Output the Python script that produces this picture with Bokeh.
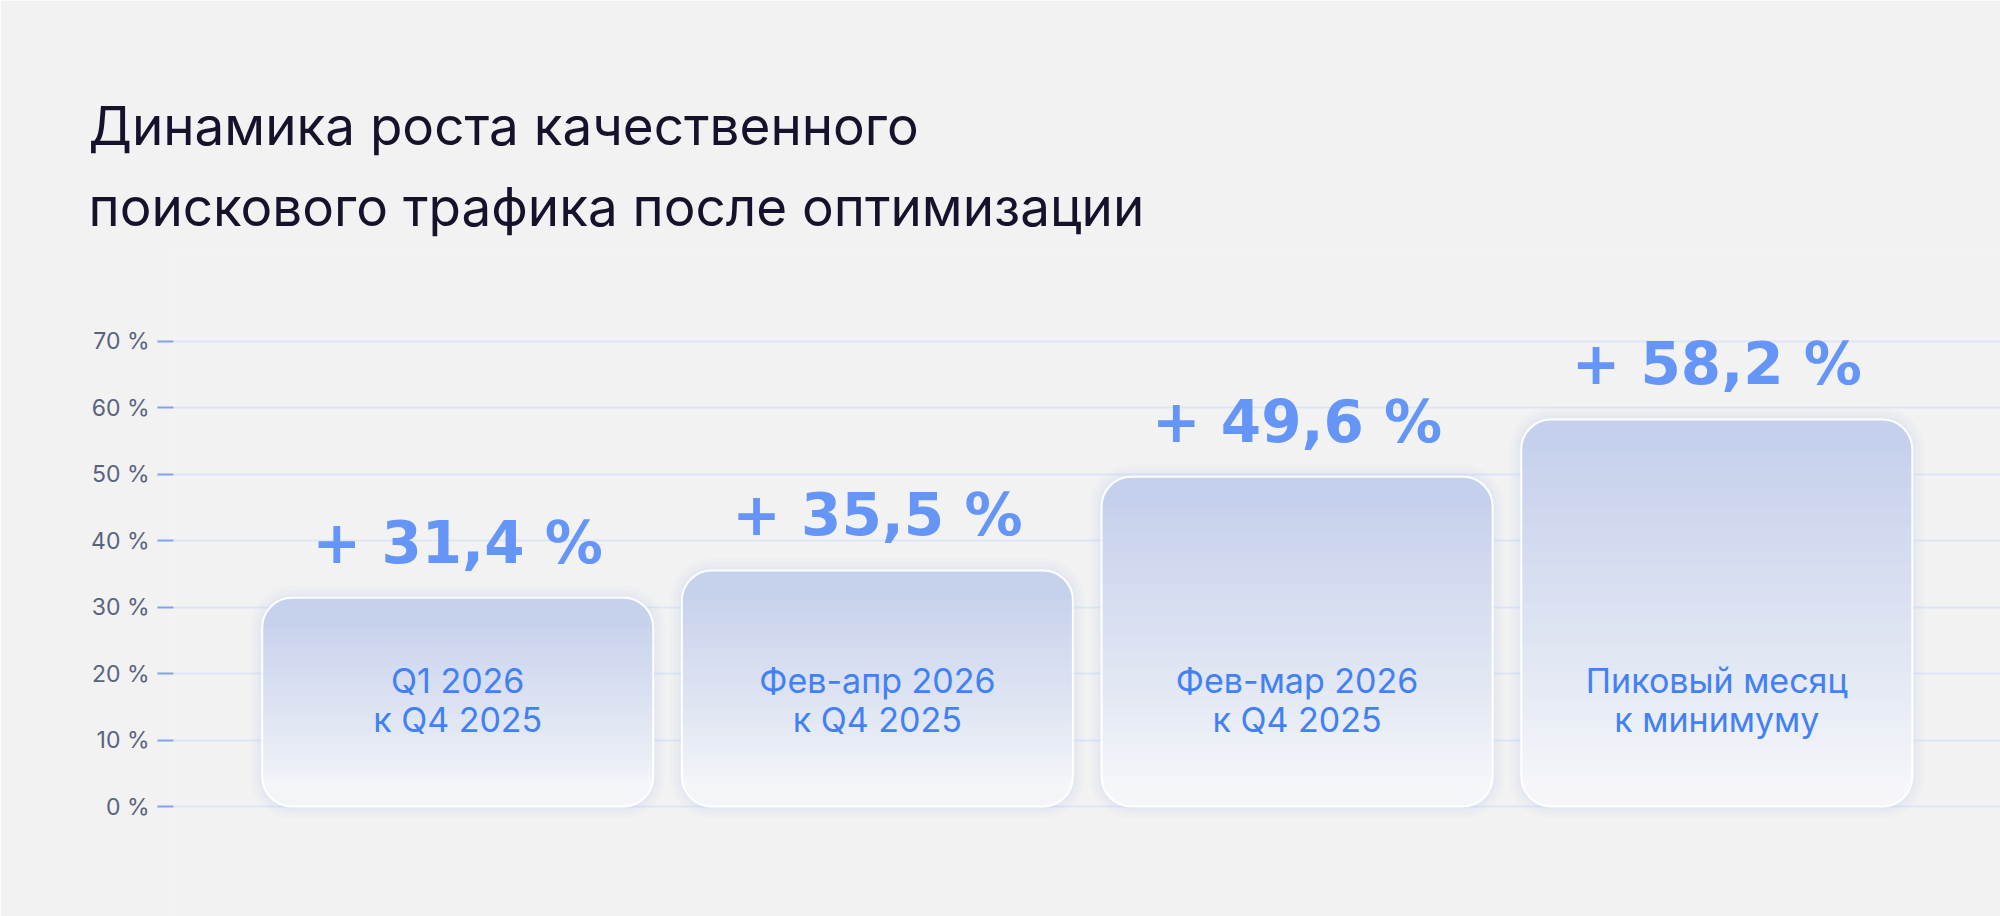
from bokeh.plotting import figure
from bokeh.models import LinearAxis, FixedTicker, Range1d, Title, Grid
from bokeh.core.properties import value
from bokeh.embed import file_html
from bokeh.resources import INLINE

# ---------------- data ----------------
title_lines = ["Динамика роста качественного", "поискового трафика после оптимизации"]
categories_l1 = ["Q1 2026", "Фев-апр 2026", "Фев-мар 2026", "Пиковый месяц"]
categories_l2 = ["к Q4 2025", "к Q4 2025", "к Q4 2025", "к минимуму"]
growth = [31.4, 35.5, 49.6, 58.2]
growth_labels = ["+ 31,4 %", "+ 35,5 %", "+ 49,6 %", "+ 58,2 %"]
tick_values = [0, 10, 20, 30, 40, 50, 60, 70]
tick_labels = ["0 %", "10 %", "20 %", "30 %", "40 %", "50 %", "60 %", "70 %"]

# ---------------- layout / style ----------------
BG = "#f2f2f2"
W, H = 2000, 916
LEFT, TOP = 173, 250
PXX = 419.7                      # px per x unit
PXY = 6.65                       # px per y unit
X0 = -(457.2 - LEFT) / PXX
X1 = X0 + (W - LEFT) / PXX
Y0 = -(H - 806) / PXY
Y1 = Y0 + (H - TOP) / PXY
BW = 391 / PXX                   # bar width in data units
RAD = 30

def y_of(py):  # page px -> data y
    return Y0 + (H - py) / PXY

idx = list(range(len(growth)))

p = figure(width=W, height=H, x_range=Range1d(X0, X1), y_range=Range1d(Y0, Y1),
           x_axis_type=None, y_axis_type=None, output_backend="svg",
           toolbar_location=None, title_location=None,
           min_border_left=LEFT, min_border_right=0,
           min_border_top=TOP, min_border_bottom=0,
           background_fill_color=BG, border_fill_color=BG)
p.outline_line_color = None

ticker = FixedTicker(ticks=tick_values)
p.add_layout(Grid(dimension=1, ticker=ticker, grid_line_color="#dde5f6",
                  grid_line_width=2))
ax = LinearAxis(ticker=ticker)
ax.axis_line_color = None
ax.major_tick_line_color = "#7ea2f2"
ax.major_tick_line_width = 2
ax.major_tick_out = 16
ax.major_tick_in = 0
ax.minor_tick_line_color = None
ax.major_label_standoff = 8
ax.major_label_text_font = "Inter"
ax.major_label_text_font_size = "23px"
ax.major_label_text_color = "#59637f"
ax.major_label_overrides = {v: t for v, t in zip(tick_values, tick_labels)}
p.add_layout(ax, "left")

# title (two lines; second line added first so it sits below the first)
for line, so in zip(reversed(title_lines), [23, 8]):
    p.add_layout(Title(text=line, align="left", offset=88 - LEFT,
                       text_font="Inter", text_font_size="53px",
                       text_font_style="normal", text_color="#15132b",
                       standoff=so), "above")

# gradient colour stops (fraction from bottom -> rgb)
stops = [(0.0, (248, 248, 251)), (0.12, (241, 243, 248)), (0.35, (227, 232, 243)),
         (0.65, (212, 220, 240)), (1.0, (195, 206, 235))]

def col(h):
    h = min(max(h, 0.0), 1.0)
    for (h0, c0), (h1, c1) in zip(stops[:-1], stops[1:]):
        if h <= h1:
            t = (h - h0) / (h1 - h0)
            return "#%02x%02x%02x" % tuple(int(round(a + (b - a) * t)) for a, b in zip(c0, c1))
    return "#%02x%02x%02x" % stops[-1][1]

# soft glow
for d, a in [(12, 0.05), (8, 0.07), (4, 0.10)]:
    p.vbar(x=idx, top=[v + d / PXY for v in growth], bottom=-d / PXY,
           width=BW + 2 * d / PXX, fill_color="#b2c4f4", fill_alpha=a,
           line_color=None, border_radius=RAD + d)

# gradient: base bar plus overlapping strips, each coloured by its visible band
N = 40
r = RAD / PXY
levels = [[min(max(k / N * v, r), v - r) for v in growth] for k in range(1, N)]
edges = [[0.0] * len(growth)] + levels + [list(growth)]
for k in range(N):
    lo, hi = edges[k], edges[k + 1]
    colors = [col((a + b) / 2 / v) for a, b, v in zip(lo, hi, growth)]
    if k == 0:
        p.vbar(x=idx, top=growth, bottom=0, width=BW, fill_color=colors,
               line_color=None, border_radius=RAD)
    else:
        p.vbar(x=idx, top=growth, bottom=lo, width=BW, fill_color=colors,
               line_color=None, border_radius=(RAD, RAD, 0, 0))
# white outline
p.vbar(x=idx, top=growth, bottom=0, width=BW, fill_alpha=0, line_color="white",
       line_width=2, line_alpha=0.95, border_radius=RAD)

# value labels above each bar
p.text(x=idx, y=[v + 55 / PXY for v in growth], text=growth_labels,
       text_align="center", text_baseline="alphabetic",
       text_font=value("DejaVu Sans"), text_font_style="bold",
       text_font_size="58px", text_color="#6495f7")

# inner category labels
p.text(x=idx, y=[y_of(680)] * len(idx), text=categories_l1, text_align="center",
       text_baseline="alphabetic", text_font=value("Inter"),
       text_font_size="34px", text_color="#4281f5")
p.text(x=idx, y=[y_of(719)] * len(idx), text=categories_l2, text_align="center",
       text_baseline="alphabetic", text_font=value("Inter"),
       text_font_size="34px", text_color="#4281f5")

open("out.html", "w").write(file_html(p, INLINE))
